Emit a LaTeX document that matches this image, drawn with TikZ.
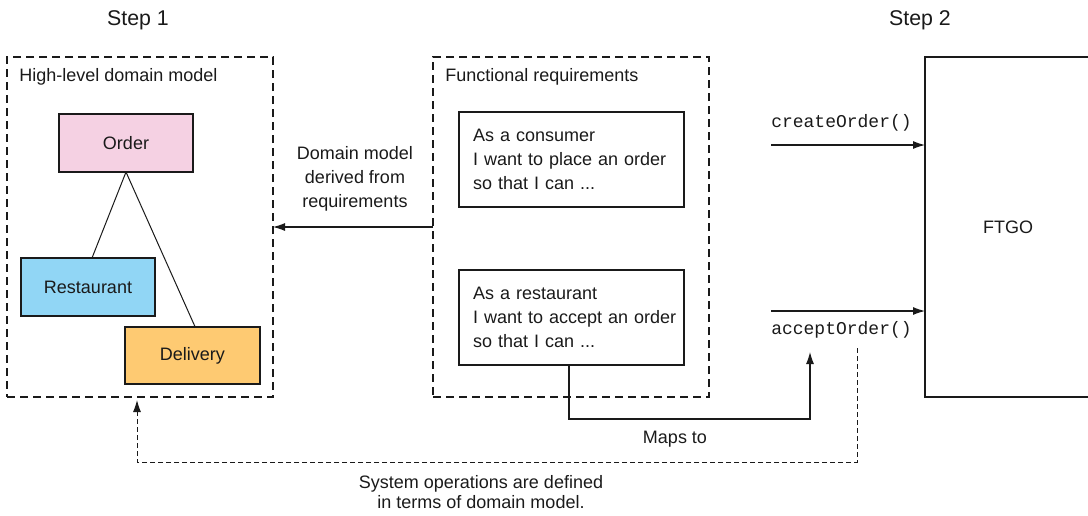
\documentclass[tikz,border=0pt]{standalone}
\usepackage{fontspec}
\setmainfont{Liberation Sans}
\setmonofont{Liberation Mono}
\usetikzlibrary{arrows.meta}
\hfuzz=100pt
\definecolor{ink}{HTML}{1A1A1A}
\definecolor{orderfill}{HTML}{F5D1E3}
\definecolor{restfill}{HTML}{91D6F5}
\definecolor{delfill}{HTML}{FECA72}
\tikzset{
  txt/.style={font=\fontsize{13.5}{18}\selectfont, text=ink, inner sep=0pt},
  steplabel/.style={font=\fontsize{16}{19}\selectfont, text=ink, inner sep=0pt},
  codelabel/.style={font=\ttfamily\fontsize{13.5}{18}\selectfont, text=ink, inner sep=0pt, anchor=west},
  group/.style={draw=ink, line width=0.8pt, dash pattern=on 6pt off 3.75pt, inner sep=0pt, outer sep=0pt},
  entity/.style={draw=ink, line width=0.8pt, inner sep=0pt, outer sep=0pt, font=\fontsize{13.5}{18}\selectfont, text=ink},
  story/.style={draw=ink, line width=0.8pt, outer sep=0pt, inner ysep=0pt, inner xsep=10.5pt,
     text width=147.75pt, align=left, minimum height=71.25pt, font=\fontsize{13.5}{18}\selectfont, text=ink},
  link/.style={draw=ink, line width=0.75pt},
  arr/.style={draw=ink, line width=0.8pt, -{Latex[length=9pt,width=6pt]}},
  dasharr/.style={draw=ink, line width=0.75pt, dash pattern=on 3.5pt off 2.5pt, -{Latex[length=9pt,width=6pt]}},
}
\begin{document}
\begin{tikzpicture}[x=0.75pt,y=-0.75pt]
\useasboundingbox (0,0) rectangle (1088,515);

% step labels
\node[steplabel] (step1) at (138,20) {Step 1};
\node[steplabel] (step2) at (920,20) {Step 2};

% groups
\node[group, minimum width=199.5pt, minimum height=255pt] (dm) at (140,227) {};
\node[group, minimum width=207pt, minimum height=255pt] (req) at (571,227) {};
\node[txt, anchor=west] (dmtitle) at (19,77) {High-level domain model};
\node[txt, anchor=west] (reqtitle) at (445,77) {Functional requirements};

% entities
\node[entity, fill=orderfill, minimum width=100.5pt, minimum height=43.5pt] (order) at (126,143) {Order};
\node[entity, fill=restfill, minimum width=100.5pt, minimum height=43.5pt] (rest) at (88,287) {Restaurant};
\node[entity, fill=delfill, minimum width=101.25pt, minimum height=42.75pt] (deliv) at (192.5,355.5) {Delivery};
\draw[link] (order.south) -- ([xshift=3pt]rest.north);
\draw[link] (order.south) -- ([xshift=2pt]deliv.north);

% stories
\node[story] (s1) at (571.5,159.5) {As a consumer\\\mbox{I want to place an order}\\so that I can ...};
\node[story] (s2) at (571.5,317.5) {As a restaurant\\\mbox{I want to accept an order}\\so that I can ...};

% derived arrow
\draw[arr] (req.west) -- (dm.east);
\node[txt, align=center] (derived) at (355,179) {Domain model\\derived from\\requirements};

% FTGO
\node[entity, minimum width=124.5pt, minimum height=255pt] (ftgo) at (1008,227) {FTGO};

% system operations
\coordinate (c1) at (771,145);
\coordinate (c2) at (771,311);
\draw[arr] (c1) -- (c1 -| ftgo.west);
\draw[arr] (c2) -- (c2 -| ftgo.west);
\node[codelabel] (create) at (771,123) {createOrder()};
\node[codelabel] (accept) at (771,330) {acceptOrder()};

% maps to
\coordinate (m0) at (810,419);
\coordinate (m1) at (810,352);
\draw[arr] ([xshift=-1.9pt]s2.south) |- (m0) -- (m1);
\node[txt] (mapsto) at (675,439) {Maps to};

% defined in terms of domain model
\coordinate (d0) at (857,348);
\coordinate (d1) at (857,462);
\coordinate (d2) at (137,400);
\draw[dasharr] (d0) -- (d1) -| (d2);
\node[txt, align=center, font=\fontsize{13.5}{15}\selectfont] (sysops) at (481,492) {System operations are defined\\in terms of domain model.};
\end{tikzpicture}
\end{document}
